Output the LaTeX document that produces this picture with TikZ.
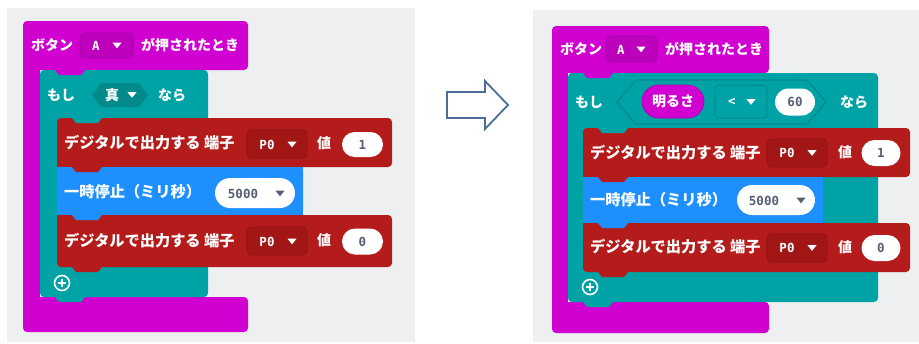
\documentclass[tikz,border=0pt]{standalone}
\usepackage{fontspec}
\setmainfont{Noto Sans CJK JP}
\newfontfamily\monof{DejaVu Sans Mono}
\usetikzlibrary{shapes.misc}
\definecolor{bgc}{HTML}{EDEFF1}
\definecolor{magc}{HTML}{D000D0}
\definecolor{magd}{HTML}{BC00BC}
\definecolor{magb}{HTML}{A800A8}
\definecolor{tealc}{HTML}{00A3A5}
\definecolor{teald}{HTML}{008A8C}
\definecolor{redc}{HTML}{B41C1C}
\definecolor{redd}{HTML}{A31616}
\definecolor{redb}{HTML}{8E1010}
\definecolor{bluec}{HTML}{1E8FFF}
\definecolor{txtg}{HTML}{575E75}
\definecolor{arrc}{HTML}{4A6E96}
\tikzset{
  x=1pt, y=-1pt,
  blk/.style={rounded corners=4pt},
  wt/.style={text=white, font=\fontsize{14}{14}\selectfont\bfseries, inner sep=0pt, anchor=west},
  wtl/.style={wt, font=\fontsize{15.2}{15.2}\selectfont\bfseries},
  mt/.style={font=\monof\bfseries\fontsize{12.5}{12.5}\selectfont, inner sep=0pt},
  oval/.style={rounded rectangle, fill=white, inner sep=0pt, text=txtg},
}
\newcommand\tabat[3]{\fill[#3] (#1,#2-1) -- (#1,#2) -- (#1+4,#2+5) -- (#1+26,#2+5) -- (#1+30,#2) -- (#1+30,#2-1) -- cycle;}
\newcommand\tri[3]{\fill[#3] (#1-4.5,#2-2.8) -- (#1+4.5,#2-2.8) -- (#1,#2+2.8) -- cycle;}
\begin{document}
\begin{tikzpicture}
\useasboundingbox (0,0) rectangle (919,343);
\fill[white] (0,0) rectangle (919,343);
% backgrounds
\fill[bgc] (7,8) rectangle (415,342);
\fill[bgc] (533,10) rectangle (919,342);

%================ LEFT =================
% magenta C-block
\fill[magc, blk] (23,21) rectangle (248,70);
\fill[magc] (23,60) rectangle (40,305);
\fill[magc, blk] (23,297) rectangle (248,332);
% teal C-block
\fill[tealc, blk] (40,70) rectangle (208,297);
\tabat{55}{70}{magc}
% header texts
\node[wt] (lh1) at (31,45) {ボタン};
\fill[magd, blk] (80,33) rectangle (133,58);
\draw[magb, rounded corners=4pt, line width=0.6pt] (80,33) rectangle (133,58);
\node[mt, text=white] (lha) at (96,45.5) {A};
\tri{117}{45.5}{white}
\node[wt] (lh2) at (141,45) {が押されたとき};
% if row
\node[wt] (lif) at (47,95) {もし};
\fill[teald] (92,95) -- (101,83) -- (139,83) -- (148,95) -- (139,107) -- (101,107) -- cycle;
\node[wt] (ltrue) at (105,95) {真};
\tri{132}{95}{white}
\node[wt] (lthen) at (158,95) {なら};
% red 1
\fill[redc, blk] (57,118) rectangle (392,167);
\fill[redc] (57,160) rectangle (303,167);
\tabat{72}{118}{tealc}
\node[wtl] (lr1) at (64,143) {デジタルで出力する 端子};
\fill[redd, blk] (247,130) rectangle (307,158);
\draw[redb, rounded corners=4pt, line width=0.6pt] (247,130) rectangle (307,158);
\node[mt, text=white] (lp1) at (267,144.5) {P0};
\tri{292}{144.5}{white}
\node[wt] (lv1) at (317,143) {値};
\node[oval, minimum width=41pt, minimum height=25pt] (lo1) at (362.5,144.5) {};
\node[mt, text=txtg] (lo1t) at (lo1) {1};
% blue
\fill[bluec, blk] (57,167) rectangle (303,215);
\fill[bluec] (57,167) rectangle (303,175);
\fill[bluec] (57,208) rectangle (303,215);
\tabat{72}{167}{redc}
\node[wtl] (lw) at (64,192) {一時停止（ミリ秒）};
\node[oval, minimum width=80pt, minimum height=30pt] (lo2) at (255,193) {};
\node[mt, text=txtg] (lo2t) at (243,193.5) {5000};
\tri{280}{193.5}{txtg}
% red 2
\fill[redc, blk] (57,215) rectangle (392,267);
\fill[redc] (57,215) rectangle (303,223);
\tabat{72}{215}{bluec}
\node[wtl] (lr2) at (64,241) {デジタルで出力する 端子};
\fill[redd, blk] (247,227) rectangle (307,255);
\draw[redb, rounded corners=4pt, line width=0.6pt] (247,227) rectangle (307,255);
\node[mt, text=white] (lp2) at (267,241.5) {P0};
\tri{292}{241.5}{white}
\node[wt] (lv2) at (317,240) {値};
\node[oval, minimum width=41pt, minimum height=26pt] (lo3) at (362.5,241.5) {};
\node[mt, text=txtg] (lo3t) at (lo3) {0};
\tabat{72}{267}{redc}
% plus
\node[circle, draw=white, line width=1.6pt, fill=tealc, minimum size=15pt, inner sep=0pt] (lplus) at (62,283) {};
\draw[white, line width=2.2pt] (58,283) -- (66,283) (62,279) -- (62,287);
\tabat{55}{297}{tealc}

%================ ARROW =================
\draw[arrc, line width=1.8pt, fill=white, line join=miter] (447,92) -- (485,92) -- (485,81) -- (508,105) -- (485,129) -- (485,118) -- (447,118) -- cycle;

%================ RIGHT =================
\fill[magc, blk] (552,26) rectangle (769,73);
\fill[magc] (552,60) rectangle (568,310);
\fill[magc, blk] (552,302) rectangle (769,333);
% teal
\fill[tealc, blk] (568,73) rectangle (878,302);
\tabat{583}{73}{magc}
% header
\node[wt] (rh1) at (560,49) {ボタン};
\fill[magd, blk] (606,36) rectangle (657,62);
\draw[magb, rounded corners=4pt, line width=0.6pt] (606,36) rectangle (657,62);
\node[mt, text=white] (rha) at (621,49.5) {A};
\tri{641}{49.5}{white}
\node[wt] (rh2) at (665,49) {が押されたとき};
% if row
\node[wt] (rif) at (575,102) {もし};
\draw[teald, line width=1.3pt, line join=round] (617,102) -- (636,80) -- (807,80) -- (826,102) -- (807,124) -- (636,124) -- cycle;
\node[rounded rectangle, fill=magc, draw=magb, line width=0.6pt, minimum width=62pt, minimum height=33pt, inner sep=0pt] (rlight) at (673,101.5) {};
\node[wt, anchor=center] (rlightt) at (rlight) {明るさ};
\fill[tealc, blk] (715,85) rectangle (767,118);
\draw[teald, rounded corners=4pt, line width=1pt] (715,85) rectangle (767,118);
\node[mt, text=white] (rlt) at (732,102) {<};
\tri{751}{102}{white}
\node[oval, minimum width=40pt, minimum height=27pt] (ro60) at (795,102) {};
\node[mt, text=txtg] (ro60t) at (ro60) {60};
\node[wt] (rthen) at (840,102) {なら};
% red 1
\fill[redc, blk] (583,128) rectangle (910,177);
\fill[redc] (583,170) rectangle (823,177);
\tabat{598}{128}{tealc}
\node[wtl] (rr1) at (590,153) {デジタルで出力する 端子};
\fill[redd, blk] (767,139) rectangle (827,167);
\draw[redb, rounded corners=4pt, line width=0.6pt] (767,139) rectangle (827,167);
\node[mt, text=white] (rp1) at (787,153) {P0};
\tri{812}{153}{white}
\node[wt] (rv1) at (838,152) {値};
\node[oval, minimum width=39pt, minimum height=26pt] (ro1) at (881,153) {};
\node[mt, text=txtg] (ro1t) at (ro1) {1};
% blue
\fill[bluec, blk] (583,177) rectangle (823,223);
\fill[bluec] (583,177) rectangle (823,185);
\fill[bluec] (583,216) rectangle (823,223);
\tabat{598}{177}{redc}
\node[wtl] (rw) at (590,200) {一時停止（ミリ秒）};
\node[oval, minimum width=78pt, minimum height=30pt] (ro2) at (776,200) {};
\node[mt, text=txtg] (ro2t) at (764,200.5) {5000};
\tri{801}{200.5}{txtg}
% red 2
\fill[redc, blk] (583,223) rectangle (910,272);
\fill[redc] (583,223) rectangle (823,231);
\tabat{598}{223}{bluec}
\node[wtl] (rr2) at (590,247) {デジタルで出力する 端子};
\fill[redd, blk] (767,234) rectangle (827,262);
\draw[redb, rounded corners=4pt, line width=0.6pt] (767,234) rectangle (827,262);
\node[mt, text=white] (rp2) at (787,248) {P0};
\tri{812}{248}{white}
\node[wt] (rv2) at (838,247) {値};
\node[oval, minimum width=39pt, minimum height=26pt] (ro3) at (881,248) {};
\node[mt, text=txtg] (ro3t) at (ro3) {0};
\tabat{598}{272}{redc}
% plus
\node[circle, draw=white, line width=1.6pt, fill=tealc, minimum size=15pt, inner sep=0pt] (rplus) at (590,287) {};
\draw[white, line width=2.2pt] (586,287) -- (594,287) (590,283) -- (590,291);
\tabat{583}{302}{tealc}
\end{tikzpicture}
\end{document}
